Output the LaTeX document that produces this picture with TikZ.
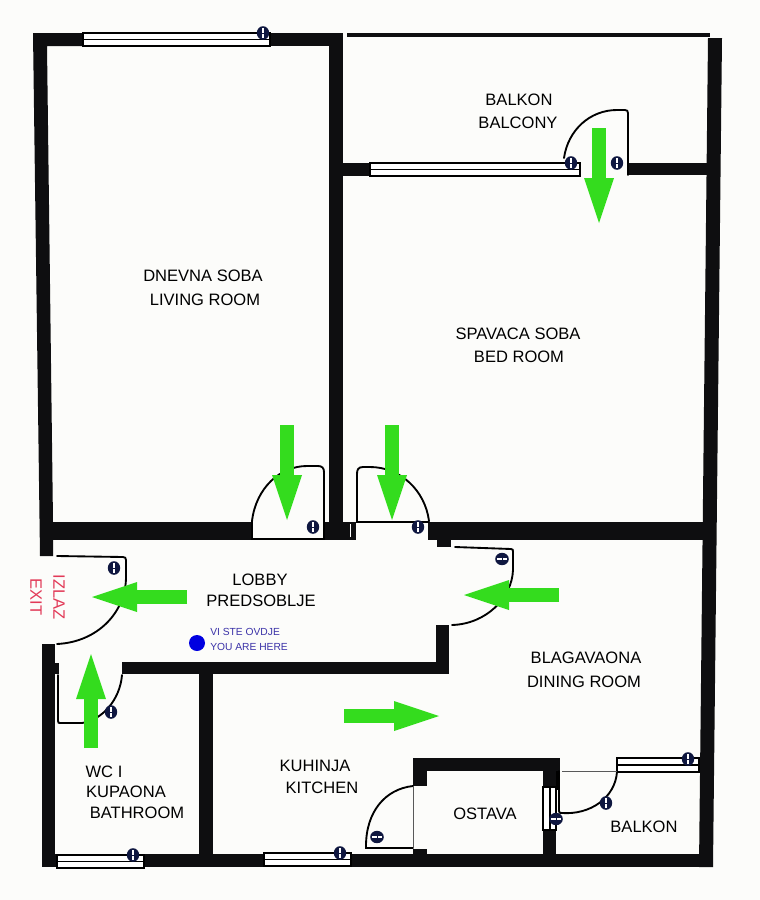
\documentclass[tikz,border=0pt]{standalone}
\usepackage{fontspec}
\setmainfont{Liberation Sans}
\usetikzlibrary{arrows.meta}
\definecolor{wallcol}{HTML}{0E0E10}
\definecolor{arrowcol}{HTML}{34DC1E}
\definecolor{handlecol}{HTML}{0F1740}
\definecolor{papercol}{HTML}{FCFCFA}
\definecolor{exitcol}{HTML}{E23A58}
\definecolor{herecol}{HTML}{3B32A8}
\tikzset{
  wall/.style={fill=wallcol},
  doorline/.style={draw=black,line width=1.4pt,line cap=round},
  thinline/.style={draw=black!65,line width=0.4pt},
  winframe/.style={draw=black,fill=white,line width=1.2pt},
  exitarrow/.style={draw=arrowcol,line width=11pt,-{Triangle[length=33.75pt,width=22.5pt,line width=0pt]}},
  room/.style={font=\fontsize{12.4}{14}\selectfont,text=black,inner sep=0pt},
  exitlabel/.style={font=\fontsize{12.4}{14}\selectfont,text=exitcol,inner sep=0pt,rotate=-90},
  herelabel/.style={font=\fontsize{7.7}{9}\selectfont,text=herecol,inner sep=0pt,anchor=west}
}
\begin{document}
\begin{tikzpicture}[x=0.75pt,y=-0.75pt]
\useasboundingbox (0,0) rectangle (760,900);
\fill[papercol] (0,0) rectangle (760,900);
% walls
\fill[wall] (33,33) -- (83,33) -- (83,46) -- (47,46) -- (53,522) -- (53,556) -- (40,556) -- cycle;
\fill[wall] (708,38) -- (722,38) -- (713,867) -- (699,867) -- cycle;
\fill[wall] (347,33) -- (710,33) -- (710,37) -- (347,37) -- cycle;
\foreach \xa/\ya/\xb/\yb in {
  270/33/343/46, 329/46/343/522, 53/522/252/540, 323/522/356/540, 428/522/705/540,
  437/540/451/547, 343/163/370/176, 628/163/708/175, 436/625/449/674, 122/662/449/674,
  199/674/213/856, 42/644/55/867, 55/663/59/674, 43/854/713/867,
  413/758/560/771, 413/771/427/786, 413/849/427/854, 543/771/560/787, 543/830/556/854}
  \fill[wall] (\xa,\ya) rectangle (\xb,\yb);
\fill[white] (349.5,524) rectangle (351,537);
% windows
\foreach \xa/\ya/\xb/\yb in {83/33/270/46, 370/163/580/176, 57/855/144/868, 264/853/351/866, 617/758/699/772}{
  \draw[winframe] (\xa,\ya) rectangle (\xb,\yb);
  \draw[winframe] (\xa,{(\ya+\yb)/2}) -- (\xb,{(\ya+\yb)/2});
}
\draw[winframe] (543,787) rectangle (556,830);
\draw[winframe] (550,787) -- (550,830);
\draw[winframe] (557,771) -- (557,790);
% doors
\draw[doorline] (252,521) .. controls (256,488) and (280,466) .. (307,466) -- (318,466) .. controls (322,466) and (324,468) .. (324,472) -- (324,539) -- (252,539) -- cycle;
\draw[doorline] (429,521) .. controls (425,490) and (400,467) .. (370,467) -- (363,467) .. controls (358,467) and (357,470) .. (357,474) -- (357,522) -- (429,522);
\draw[doorline] (564,158) .. controls (568,130) and (590,110) .. (617,110) -- (625,110) .. controls (627,110) and (628,111) .. (628,113) -- (628,175);
\draw[doorline] (57,556) -- (123,557) .. controls (125,557) and (126,558) .. (126,560) -- (126,577) .. controls (126,612) and (98,642) .. (57,644);
\draw[doorline] (58,675) -- (58,721) .. controls (58,723) and (59,723) .. (60,723) -- (82,723) .. controls (102,720) and (120,700) .. (122,675);
\draw[doorline] (455,547) -- (511,549) .. controls (513,549) and (513,550) .. (513,552) -- (513,570) .. controls (512,598) and (486,624) .. (452,625);
\draw[doorline] (413,786) .. controls (385,789) and (366,812) .. (366,846) -- (366,848) -- (413,848);
\draw[doorline] (559,771) -- (559,811) .. controls (559,813) and (560,813) .. (562,813) .. controls (590,815) and (615,798) .. (617,772);
\draw[thinline] (413,786) -- (413,848);
\draw[thinline] (562,771) -- (617,771);
% lock handles
\foreach \x/\y/\r in {263/33/0, 313/527/0, 418/527/0, 571/163/0, 617/163/0, 114/568/0, 111/712/0, 502/559/90, 133/855/0, 340/853/0, 377/837/90, 606/803/0, 556/819/90, 688/759/0}{
  \begin{scope}[shift={(\x,\y)},rotate=\r]
    \fill[handlecol] (0,0) ellipse [x radius=6.2,y radius=6.8];
    \fill[white] (-1,-4.8) rectangle (1,4.8);
    \fill[handlecol] (-1,-0.5) rectangle (1,0.5);
  \end{scope}
}
% way out
\foreach \xa/\ya/\xb/\yb in {187/597/92/597, 91/748/91/654, 344/716/439/716, 559/595/464/595, 287/425/287/520, 392/425/392/520, 599/128/599/223}
  \draw[exitarrow] (\xa,\ya) -- (\xb,\yb);
\fill[blue!88!black] (197,643) circle (8);
% labels
\node[room] (dnevna) at (203,276) {DNEVNA SOBA};
\node[room] (living) at (205,300) {LIVING ROOM};
\node[room] (spavaca) at (518,334) {SPAVACA SOBA};
\node[room] (bedroom) at (519,357) {BED ROOM};
\node[room] (balkon) at (519,100) {BALKON};
\node[room] (balcony) at (518,123) {BALCONY};
\node[room] (lobby) at (260,580) {LOBBY};
\node[room] (predsoblje) at (261,601) {PREDSOBLJE};
\node[room] (blagavaona) at (586,658) {BLAGAVAONA};
\node[room] (dining) at (584,682) {DINING ROOM};
\node[room] (kuhinja) at (315,766) {KUHINJA};
\node[room] (kitchen) at (322,788) {KITCHEN};
\node[room] (wci) at (104,772) {WC I};
\node[room] (kupaona) at (126,792) {KUPAONA};
\node[room] (bathroom) at (137,813) {BATHROOM};
\node[room] (ostava) at (485,814) {OSTAVA};
\node[room] (balkontwo) at (644,827) {BALKON};
\node[exitlabel] (izlaz) at (59,597) {IZLAZ};
\node[exitlabel] (exit) at (36,597) {EXIT};
\node[herelabel] (ovdje) at (210,632) {VI STE OVDJE};
\node[herelabel] (here) at (210,647) {YOU ARE HERE};
\end{tikzpicture}
\end{document}
